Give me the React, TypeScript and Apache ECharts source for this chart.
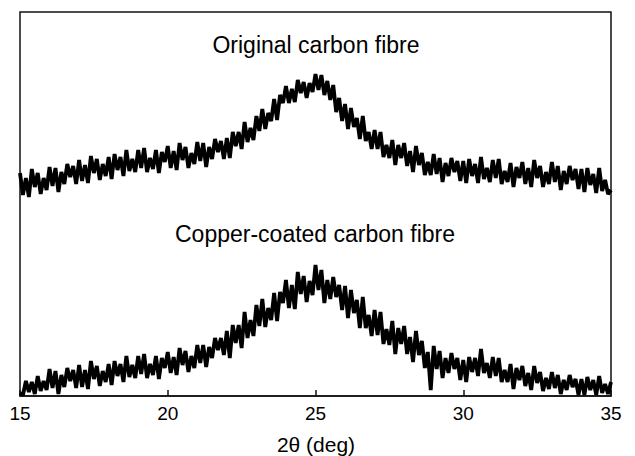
import React, { useEffect, useRef } from "react";
import * as echarts from "echarts";

// 2θ sampling grid of the diffractometer scan: 15.0° → 35.0°, step 0.1°
const thetaStart = 15;
const thetaStep = 0.1;

// Intensity (arbitrary units, vertically offset traces)
const originalFibre = [
  223, 201, 218, 199, 227, 209, 223, 202, 218, 206,
  229, 210, 228, 204, 224, 212, 232, 219, 230, 212,
  236, 215, 231, 213, 240, 223, 237, 216, 232, 220,
  239, 217, 242, 226, 239, 220, 246, 225, 237, 224,
  246, 228, 248, 224, 238, 227, 246, 223, 244, 234,
  250, 228, 245, 226, 253, 236, 249, 228, 243, 232,
  254, 235, 253, 229, 249, 237, 257, 244, 255, 237,
  258, 238, 264, 250, 264, 247, 274, 254, 268, 256,
  280, 265, 287, 267, 283, 275, 297, 276, 301, 293,
  310, 293, 307, 294, 316, 303, 314, 298, 313, 304,
  322, 306, 321, 301, 315, 296, 311, 284, 298, 275,
  292, 267, 288, 269, 278, 257, 280, 255, 264, 247,
  266, 247, 264, 239, 251, 238, 256, 231, 251, 238,
  253, 230, 245, 224, 250, 231, 243, 221, 234, 221,
  242, 222, 238, 214, 233, 220, 238, 224, 235, 215,
  235, 213, 237, 220, 232, 213, 239, 217, 228, 214,
  236, 218, 237, 212, 225, 214, 233, 209, 229, 218,
  234, 212, 228, 209, 236, 218, 230, 209, 224, 212,
  234, 214, 230, 206, 225, 212, 230, 216, 227, 207,
  227, 204, 228, 211, 222, 203, 228, 205, 216, 202,
  206,
];

const copperCoatedFibre = [
  3, 1, 15, 4, 14, 2, 20, 5, 15, 6,
  27, 8, 25, 2, 21, 9, 28, 15, 26, 8,
  31, 9, 26, 7, 35, 17, 30, 10, 25, 14,
  32, 11, 35, 20, 32, 14, 40, 19, 31, 18,
  40, 22, 42, 18, 32, 21, 40, 17, 38, 28,
  44, 23, 39, 21, 48, 31, 45, 24, 40, 28,
  51, 33, 51, 29, 49, 38, 58, 46, 58, 41,
  65, 38, 71, 53, 71, 48, 84, 58, 76, 60,
  91, 70, 97, 69, 88, 76, 103, 75, 104, 93,
  116, 88, 111, 87, 124, 102, 120, 94, 115, 101,
  131, 106, 126, 93, 116, 97, 119, 99, 111, 86,
  110, 78, 106, 83, 96, 68, 99, 68, 81, 60,
  86, 61, 84, 52, 67, 51, 75, 42, 68, 52,
  70, 42, 59, 34, 65, 41, 55, 28, 44, 6,
  50, 27, 45, 18, 38, 23, 43, 27, 38, 16,
  36, 14, 39, 24, 38, 20, 47, 23, 33, 18,
  39, 20, 38, 14, 26, 14, 32, 7, 28, 16,
  30, 10, 23, 6, 30, 13, 24, 5, 18, 7,
  24, 8, 21, 2, 16, 6, 21, 9, 17, 1,
  17, 1, 19, 6, 16, 1, 20, 3, 12, 2,
  14,
];

const xTicks = [15, 20, 25, 30, 35];
const traceLabels = ["Original carbon fibre", "Copper-coated carbon fibre"];
const axisTitle = "2θ (deg)";

const FONT = "'Liberation Sans', Arial, Helvetica, sans-serif";

function toPairs(values: number[]) {
  return values.map((v, i) => [
    Math.round((thetaStart + i * thetaStep) * 10) / 10,
    v,
  ]);
}

export default function App() {
  const ref = useRef<HTMLDivElement>(null);

  useEffect(() => {
    if (!ref.current) return;
    const chart = echarts.init(ref.current, null, { renderer: "svg" });
    const textStyle = (text: string, size: number) => ({
      text,
      fontSize: size,
      fontFamily: FONT,
      fill: "#000",
      align: "center",
      verticalAlign: "middle",
    });
    chart.setOption({
      animation: false,
      backgroundColor: "#ffffff",
      grid: {
        left: 20,
        right: 24,
        top: 12,
        bottom: 60,
        show: true,
        borderColor: "#111",
        borderWidth: 1.5,
        backgroundColor: "transparent",
      },
      xAxis: {
        type: "value",
        min: xTicks[0],
        max: xTicks[xTicks.length - 1],
        interval: 5,
        axisLine: { show: true, onZero: false, lineStyle: { color: "#111", width: 1.5 } },
        axisTick: { show: true, inside: true, length: 6, lineStyle: { color: "#111", width: 1.5 } },
        splitLine: { show: false },
        axisLabel: {
          show: true,
          margin: 8,
          fontSize: 19,
          color: "#000",
          fontFamily: FONT,
        },
      },
      yAxis: {
        type: "value",
        min: 0,
        max: 384,
        show: false,
        splitLine: { show: false },
      },
      series: [
        {
          type: "line",
          data: toPairs(originalFibre),
          showSymbol: false,
          lineStyle: { color: "#000", width: 3.8 },
          silent: true,
        },
        {
          type: "line",
          data: toPairs(copperCoatedFibre),
          showSymbol: false,
          lineStyle: { color: "#000", width: 3.8 },
          silent: true,
        },
      ],
      graphic: [
        { type: "text", x: 316, y: 45, style: textStyle(traceLabels[0], 23) },
        { type: "text", x: 315, y: 234, style: textStyle(traceLabels[1], 23) },
        { type: "text", x: 316, y: 444, style: textStyle(axisTitle, 21) },
      ],
    });
    return () => chart.dispose();
  }, []);

  return (
    <div
      ref={ref}
      style={{ position: "absolute", left: 0, top: 0, width: 635, height: 456 }}
    />
  );
}
